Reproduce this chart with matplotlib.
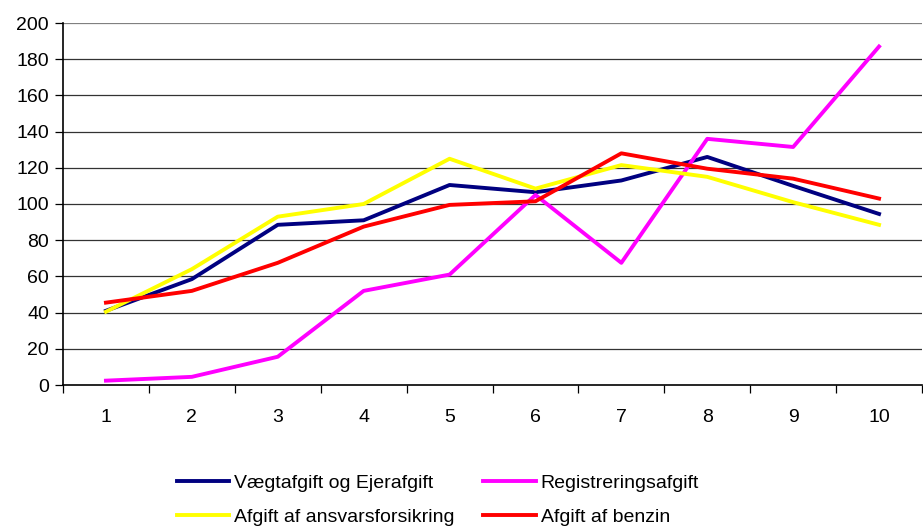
import matplotlib
matplotlib.use("Agg")
import matplotlib.pyplot as plt
import numpy as np

plt.rcParams['font.family'] = ['Liberation Sans', 'DejaVu Sans']

categories = [1, 2, 3, 4, 5, 6, 7, 8, 9, 10]
vaegtafgift = [41, 58.5, 88.5, 91, 110.5, 106.5, 113, 126, 110, 94.5]
registrering = [2.4, 4.5, 15.6, 52, 61, 105, 67.5, 136, 131.5, 187]
ansvar = [40.5, 64, 93, 100, 125, 108.5, 121.5, 115, 101, 88.5]
benzin = [45.5, 52, 67.5, 87.5, 99.5, 101.5, 128, 119.5, 114, 103]

series = [
    ("Vægtafgift og Ejerafgift", vaegtafgift, "#000080"),
    ("Registreringsafgift", registrering, "#FF00FF"),
    ("Afgift af ansvarsforsikring", ansvar, "#FFFF00"),
    ("Afgift af benzin", benzin, "#FF0000"),
]

fig = plt.figure(figsize=(9.23, 5.29), dpi=100)
ax = fig.add_axes([63 / 923, 1 - 385 / 529, 859 / 923, 362 / 529])

lines = []
for name, vals, color in series:
    ln, = ax.plot(categories, vals, color=color, linewidth=2.8, label=name)
    lines.append(ln)

ax.set_xlim(0.5, 10.5)
ax.set_ylim(0, 200)
ax.set_yticks(np.arange(0, 201, 20))
for y in range(20, 201, 20):
    ax.axhline(y, color='#808080' if y == 200 else '#333333', linewidth=0.9, zorder=0)

# category axis: ticks between categories, labels centered
ax.set_xticks(np.arange(0.5, 11, 1))
ax.set_xticklabels([])
ax.set_xticks(categories, minor=True)
ax.set_xticklabels([str(c) for c in categories], minor=True)
ax.tick_params(axis='x', which='major', direction='out', length=6, width=0.9, color='black')
ax.tick_params(axis='x', which='minor', length=0, pad=17, labelsize=14)
ax.tick_params(axis='y', direction='out', length=6, width=0.9, labelsize=14, pad=4)

for side in ['top', 'right']:
    ax.spines[side].set_visible(False)
ax.spines['left'].set_linewidth(1.2)
ax.spines['bottom'].set_linewidth(1.2)

# legend filled row-wise like the original (matplotlib fills columns first)
order = [0, 2, 1, 3]
fig.legend([lines[i] for i in order], [series[i][0] for i in order],
           loc='center', bbox_to_anchor=(438 / 923, 1 - 500 / 529), ncol=2, frameon=False,
           fontsize=14, handlelength=2.7, handletextpad=0.26, columnspacing=1.45,
           labelspacing=0.85, borderpad=0)

fig.savefig("out.png", dpi=100)
